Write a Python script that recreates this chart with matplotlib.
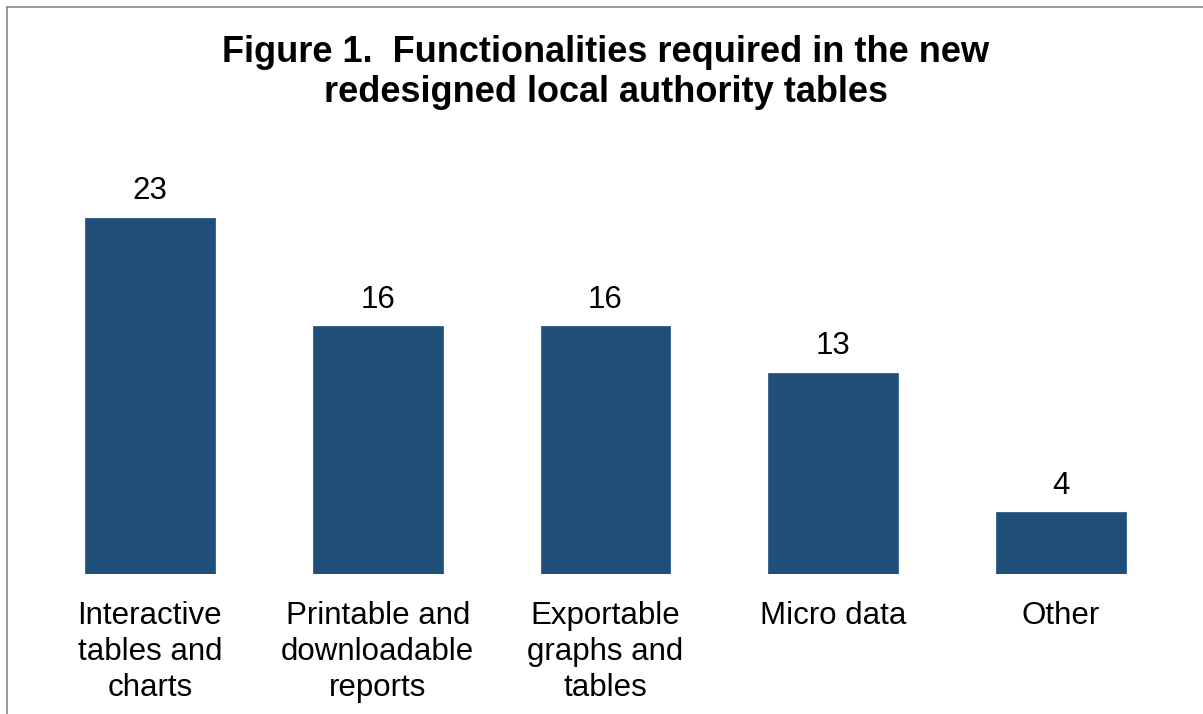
import matplotlib
matplotlib.use("Agg")
import matplotlib.pyplot as plt
from matplotlib.lines import Line2D

categories = ["Interactive\ntables and\ncharts",
              "Printable and\ndownloadable\nreports",
              "Exportable\ngraphs and\ntables",
              "Micro data",
              "Other"]
values = [23, 16, 16, 13, 4]
title = "Figure 1.  Functionalities required in the new\nredesigned local authority tables"

plt.rcParams['font.family'] = ['Liberation Sans', 'DejaVu Sans']

W, H = 1203, 714
fig = plt.figure(figsize=(W / 100, H / 100), dpi=100)
fig.patch.set_facecolor('white')

# axes in pixel terms
ax_left, ax_right = 36, 1175
ax_bottom = 574
ylim_top = 25
px_per_unit = 356 / 23.0
ax_h = ylim_top * px_per_unit
ax = fig.add_axes([ax_left / W, (H - ax_bottom) / H, (ax_right - ax_left) / W, ax_h / H])

x = list(range(len(values)))
bars = ax.bar(x, values, width=0.57, color='#1F4E79', edgecolor='#2E5C87', linewidth=0.6)
ax.set_xlim(-0.5, len(values) - 0.5)
ax.set_ylim(0, ylim_top)
ax.bar_label(bars, labels=[str(v) for v in values], padding=8.3, fontsize=22.5, color='black')

ax.set_xticks(x)
ax.set_xticklabels(categories, fontsize=22.5, linespacing=1.25)
ax.tick_params(axis='x', length=0, pad=19.5)
ax.set_yticks([])
for s in ax.spines.values():
    s.set_visible(False)

fig.text(606 / W, 1 - 35 / H, title, ha='center', va='top', fontsize=26,
         fontweight='bold', linespacing=1.17)

# chart border (left and top)
fig.add_artist(Line2D([7 / W, 7 / W], [0, 1 - 7 / H], color='#878787', linewidth=1.2,
                      transform=fig.transFigure))
fig.add_artist(Line2D([7 / W, 1], [1 - 7 / H, 1 - 7 / H], color='#878787', linewidth=1.2,
                      transform=fig.transFigure))

fig.savefig('out.png', dpi=100, facecolor='white')
